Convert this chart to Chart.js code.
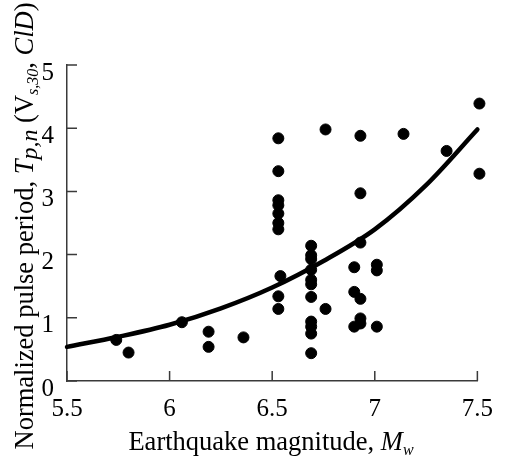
<!DOCTYPE html>
<html lang="en">
<head>
    <meta charset="UTF-8">
    <title>Pulse period vs magnitude</title>
    <style>
      html, body { margin: 0; padding: 0; background: #fff; }
      #wrap { width: 506px; height: 462px; position: relative; }
    </style>
</head>
<body>
    <div id="wrap">
        <canvas id="pulseChart"></canvas>
    </div>

    <script src="https://cdn.jsdelivr.net/npm/chart.js"></script>
    <script>
        // observed records (magnitude, normalized pulse period)
        const recMw = [5.74, 5.80, 6.06, 6.19, 6.19, 6.36,
                       6.53, 6.53, 6.53, 6.53, 6.53, 6.53, 6.53, 6.54, 6.53, 6.53,
                       6.69, 6.69, 6.69, 6.69, 6.69, 6.69, 6.69, 6.69, 6.69, 6.69, 6.69,
                       6.76, 6.76,
                       6.90, 6.90, 6.93, 6.90, 6.93, 6.93, 6.93, 6.93, 6.93,
                       7.01, 7.01, 7.01, 7.14, 7.35, 7.51, 7.51];
        const recTp = [0.65, 0.45, 0.93, 0.78, 0.54, 0.69,
                       3.84, 3.32, 2.86, 2.78, 2.65, 2.50, 2.40, 1.66, 1.34, 1.14,
                       2.14, 1.99, 1.93, 1.76, 1.60, 1.53, 1.33, 0.94, 0.86, 0.75, 0.44,
                       3.98, 1.14,
                       1.80, 1.41, 1.30, 0.86, 0.99, 0.91, 3.88, 2.97, 2.19,
                       1.84, 1.75, 0.86, 3.91, 3.64, 4.39, 3.28];

        // fitted trend
        const fitMw = [5.5, 5.75, 6.0, 6.25, 6.5, 6.75, 7.0, 7.25, 7.5];
        const fitTp = [0.54, 0.70, 0.89, 1.15, 1.48, 1.90, 2.40, 3.10, 3.98];

        const xTicks = [5.5, 6, 6.5, 7, 7.5];
        const yTicks = [0, 1, 2, 3, 4, 5];

        const serif = "'Liberation Serif', 'Times New Roman', serif";

        // tick marks pointing into the plot + axis titles with italics/subscripts
        const decorPlugin = {
            id: 'decor',
            afterDraw(chart) {
                const ctx = chart.ctx;
                const xs = chart.scales.x, ys = chart.scales.y;
                ctx.save();
                ctx.strokeStyle = '#3a3a3a';
                ctx.lineWidth = 1.5;
                ctx.beginPath();
                yTicks.forEach(v => {
                    const py = ys.getPixelForValue(v);
                    ctx.moveTo(xs.left, py);
                    ctx.lineTo(xs.left + 10, py);
                });
                xTicks.forEach(v => {
                    const px = xs.getPixelForValue(v);
                    ctx.moveTo(px, ys.bottom);
                    ctx.lineTo(px, ys.bottom - 10);
                });
                ctx.stroke();

                ctx.fillStyle = '#000';
                ctx.textBaseline = 'alphabetic';

                function drawRuns(runs, cx, baseY) {
                    let total = 0;
                    runs.forEach(r => {
                        ctx.font = r.font;
                        r.w = ctx.measureText(r.t).width;
                        total += r.w;
                    });
                    let x = cx - total / 2;
                    runs.forEach(r => {
                        ctx.font = r.font;
                        ctx.fillText(r.t, x, baseY + (r.dy || 0));
                        x += r.w;
                    });
                }

                // x title
                drawRuns([
                    { t: 'Earthquake magnitude, ', font: '26.5px ' + serif },
                    { t: 'M', font: 'italic 26.5px ' + serif },
                    { t: 'w', font: 'italic 16px ' + serif, dy: 5 }
                ], 271, 450);

                // y title (rotated)
                ctx.translate(33, 226);
                ctx.rotate(-Math.PI / 2);
                drawRuns([
                    { t: 'Normalized pulse period, ', font: '26.5px ' + serif },
                    { t: 'T', font: 'italic 26.5px ' + serif },
                    { t: 'p,n', font: 'italic 24px ' + serif, dy: 4 },
                    { t: ' (V', font: '26.5px ' + serif },
                    { t: 's,30', font: 'italic 16px ' + serif, dy: 5 },
                    { t: ', ', font: '26.5px ' + serif },
                    { t: 'ClD', font: 'italic 26.5px ' + serif },
                    { t: ')', font: '26.5px ' + serif }
                ], 0, 0);
                ctx.restore();
            }
        };

        const ctx = document.getElementById('pulseChart').getContext('2d');

        const pulseChart = new Chart(ctx, {
            type: 'scatter',
            data: {
                datasets: [{
                    label: 'Records',
                    data: recMw.map((m, i) => ({ x: m, y: recTp[i] })),
                    backgroundColor: '#000',
                    borderColor: '#000',
                    pointRadius: 5.5,
                    pointHoverRadius: 5.5,
                    clip: false,
                    order: 1
                }, {
                    type: 'line',
                    label: 'Fit',
                    data: fitMw.map((m, i) => ({ x: m, y: fitTp[i] })),
                    borderColor: '#000',
                    borderWidth: 4.5,
                    pointRadius: 0,
                    fill: false,
                    cubicInterpolationMode: 'monotone',
                    borderCapStyle: 'round',
                    clip: false,
                    order: 0
                }]
            },
            options: {
                responsive: true,
                maintainAspectRatio: false,
                animation: false,
                layout: { padding: { left: 0, top: 65, right: 17, bottom: 0 } },
                plugins: {
                    legend: { display: false },
                    tooltip: { enabled: false }
                },
                scales: {
                    x: {
                        type: 'linear',
                        min: 5.5,
                        max: 7.5,
                        afterBuildTicks: s => { s.ticks = xTicks.map(v => ({ value: v })); },
                        afterFit: s => { s.height = 81; },
                        grid: { display: false, drawTicks: false },
                        border: { display: true, color: '#3a3a3a', width: 1.5 },
                        ticks: {
                            color: '#000',
                            padding: 13,
                            maxRotation: 0,
                            callback: v => String(v),
                            font: { family: serif, size: 25 }
                        }
                    },
                    y: {
                        min: 0,
                        max: 5,
                        afterBuildTicks: s => { s.ticks = yTicks.map(v => ({ value: v })); },
                        afterFit: s => { s.width = 67; },
                        grid: { display: false, drawTicks: false },
                        border: { display: true, color: '#3a3a3a', width: 1.5 },
                        ticks: {
                            color: '#000',
                            padding: 13,
                            labelOffset: 8,
                            callback: v => String(v),
                            font: { family: serif, size: 25 }
                        }
                    }
                }
            },
            plugins: [decorPlugin]
        });
    </script>
</body>
</html>
